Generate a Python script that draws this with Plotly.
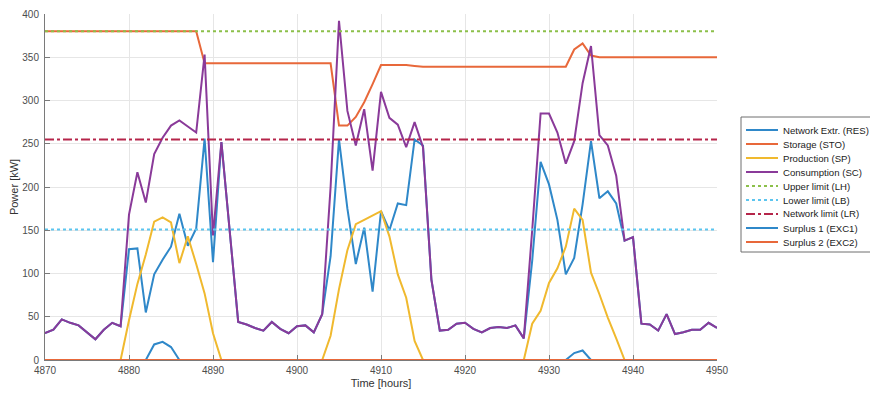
import plotly.graph_objects as go

hours = list(range(4870, 4951))

consumption_sc = [
    31, 35, 47, 43, 40, 32, 24, 35, 43, 39,
    168, 217, 182, 238, 257, 271, 277, 270, 263, 353,
    144, 252, 148, 44, 41, 37, 34, 44, 36, 31,
    39, 40, 32, 53, 200, 392, 288, 248, 290, 219,
    310, 280, 272, 246, 275, 246, 93, 34, 35, 42,
    43, 36, 32, 37, 38, 37, 40, 25, 150, 285,
    285, 263, 227, 253, 320, 363, 260, 248, 213, 138,
    142, 42, 41, 34, 53, 30, 32, 35, 35, 43,
    37,
]

network_res = [
    31, 35, 47, 43, 40, 32, 24, 35, 43, 39,
    128, 129, 55, 99, 116, 131, 169, 132, 152, 256,
    113, 252, 148, 44, 41, 37, 34, 44, 36, 31,
    39, 40, 32, 53, 120, 255, 175, 111, 153, 79,
    172, 150, 181, 179, 255, 248, 93, 34, 35, 42,
    43, 36, 32, 37, 38, 37, 40, 25, 115, 229,
    203, 162, 99, 118, 180, 253, 187, 195, 181, 138,
    142, 42, 41, 34, 53, 30, 32, 35, 35, 43,
    37,
]

production_sp = [
    0, 0, 0, 0, 0, 0, 0, 0, 0, 0,
    46, 88, 122, 160, 165, 159, 112, 143, 111, 77,
    31, 0, 0, 0, 0, 0, 0, 0, 0, 0,
    0, 0, 0, 0, 28, 82, 127, 157, 162, 167,
    172, 143, 99, 72, 22, 0, 0, 0, 0, 0,
    0, 0, 0, 0, 0, 0, 0, 0, 42, 57,
    89, 106, 131, 175, 162, 101, 76, 49, 25, 0,
    0, 0, 0, 0, 0, 0, 0, 0, 0, 0,
    0,
]

storage_sto = [
    380, 380, 380, 380, 380, 380, 380, 380, 380, 380,
    380, 380, 380, 380, 380, 380, 380, 380, 380, 343,
    343, 343, 343, 343, 343, 343, 343, 343, 343, 343,
    343, 343, 343, 343, 343, 271, 271, 281, 298, 319,
    341, 341, 341, 341, 340, 339, 339, 339, 339, 339,
    339, 339, 339, 339, 339, 339, 339, 339, 339, 339,
    339, 339, 339, 359, 366, 352, 350, 350, 350, 350,
    350, 350, 350, 350, 350, 350, 350, 350, 350, 350,
    350,
]

surplus_exc1 = [
    0, 0, 0, 0, 0, 0, 0, 0, 0, 0,
    0, 0, 0, 18, 21, 15, 0, 0, 0, 0,
    0, 0, 0, 0, 0, 0, 0, 0, 0, 0,
    0, 0, 0, 0, 0, 0, 0, 0, 0, 0,
    0, 0, 0, 0, 0, 0, 0, 0, 0, 0,
    0, 0, 0, 0, 0, 0, 0, 0, 0, 0,
    0, 0, 0, 8, 11, 0, 0, 0, 0, 0,
    0, 0, 0, 0, 0, 0, 0, 0, 0, 0,
    0,
]

surplus_exc2 = [
    0, 0, 0, 0, 0, 0, 0, 0, 0, 0,
    0, 0, 0, 0, 0, 0, 0, 0, 0, 0,
    0, 0, 0, 0, 0, 0, 0, 0, 0, 0,
    0, 0, 0, 0, 0, 0, 0, 0, 0, 0,
    0, 0, 0, 0, 0, 0, 0, 0, 0, 0,
    0, 0, 0, 0, 0, 0, 0, 0, 0, 0,
    0, 0, 0, 0, 0, 0, 0, 0, 0, 0,
    0, 0, 0, 0, 0, 0, 0, 0, 0, 0,
    0,
]

limit_hours = [4870, 4950]
upper_limit_lh = [380, 380]
lower_limit_lb = [151, 151]
network_limit_lr = [255, 255]

x_ticks = [4870, 4880, 4890, 4900, 4910, 4920, 4930, 4940, 4950]
y_ticks = [0, 50, 100, 150, 200, 250, 300, 350, 400]

BLUE = "#2f88c9"
ORANGE = "#e8683a"
YELLOW = "#f0b92e"
PURPLE = "#8a3a99"
GREEN = "#8cc04a"
LIGHTBLUE = "#5cc5ef"
DARKRED = "#b5254a"

series = [
    ("Network Extr. (RES)", hours, network_res, BLUE, "solid"),
    ("Storage (STO)", hours, storage_sto, ORANGE, "solid"),
    ("Production (SP)", hours, production_sp, YELLOW, "solid"),
    ("Consumption (SC)", hours, consumption_sc, PURPLE, "solid"),
    ("Upper limit (LH)", limit_hours, upper_limit_lh, GREEN, "dot"),
    ("Lower limit (LB)", limit_hours, lower_limit_lb, LIGHTBLUE, "dot"),
    ("Network limit (LR)", limit_hours, network_limit_lr, DARKRED, "dashdot"),
    ("Surplus 1 (EXC1)", hours, surplus_exc1, BLUE, "solid"),
    ("Surplus 2 (EXC2)", hours, surplus_exc2, ORANGE, "solid"),
]

FONT = "Liberation Sans, Arial, sans-serif"

# The page body adds an 8px offset, so the figure is sized to fill the
# remaining 870x390 of the 878x398 window.
OFF = 8
W, H = 878 - OFF, 398 - OFF
ML, MT = 45 - OFF, 14 - OFF
PW, PH = 672, 346
MR, MB = W - ML - PW, H - MT - PH


def px_x(sx):
    return (sx - OFF - ML) / PW


def px_y(sy):
    return (MT + PH - (sy - OFF)) / PH


fig = go.Figure()
for name, xs, ys, color, dash in series:
    fig.add_trace(go.Scatter(
        x=xs, y=ys, name=name, mode="lines",
        line=dict(color=color, width=2, dash=dash),
        showlegend=False,
    ))

# custom legend (MATLAB-style compact box)
shapes = [dict(
    type="rect", xref="paper", yref="paper",
    x0=px_x(741), x1=px_x(875), y0=px_y(252), y1=px_y(117),
    line=dict(color="#6e6e6e", width=1), fillcolor="white", layer="above",
)]
annotations = []
row0, row_step = 130, 14
for i, (name, _, _, color, dash) in enumerate(series):
    yy = px_y(row0 + i * row_step)
    shapes.append(dict(
        type="line", xref="paper", yref="paper",
        x0=px_x(746), x1=px_x(778), y0=yy, y1=yy,
        line=dict(color=color, width=2, dash=dash), layer="above",
    ))
    annotations.append(dict(
        text=name, xref="paper", yref="paper", x=px_x(781), y=yy,
        xanchor="left", yanchor="middle", showarrow=False,
        font=dict(family=FONT, size=9.6, color="#222222"),
    ))

fig.update_layout(
    width=W, height=H,
    margin=dict(l=ML, r=MR, t=MT, b=MB),
    paper_bgcolor="white", plot_bgcolor="white",
    font=dict(family=FONT, size=10, color="#4d4d4d"),
    showlegend=False,
    shapes=shapes,
    annotations=annotations,
    xaxis=dict(
        range=[4870, 4950], tickvals=x_ticks, ticktext=[str(v) for v in x_ticks],
        showgrid=True, gridcolor="#e6e6e6", gridwidth=1,
        showline=True, linecolor="#7a7a7a", linewidth=1,
        ticks="inside", ticklen=5, tickcolor="#7a7a7a",
        zeroline=False, ticklabelstandoff=1,
        title=dict(text="Time [hours]", standoff=4, font=dict(size=11, color="#333333")),
        automargin=False,
    ),
    yaxis=dict(
        range=[0, 400], tickvals=y_ticks, ticktext=[str(v) for v in y_ticks],
        showgrid=True, gridcolor="#e6e6e6", gridwidth=1,
        showline=True, linecolor="#7a7a7a", linewidth=1,
        ticks="inside", ticklen=5, tickcolor="#7a7a7a",
        zeroline=False, ticklabelstandoff=3,
        title=dict(text="Power [kW]", font=dict(size=11, color="#333333")),
        automargin=False,
    ),
)

fig.write_html("out.html")
